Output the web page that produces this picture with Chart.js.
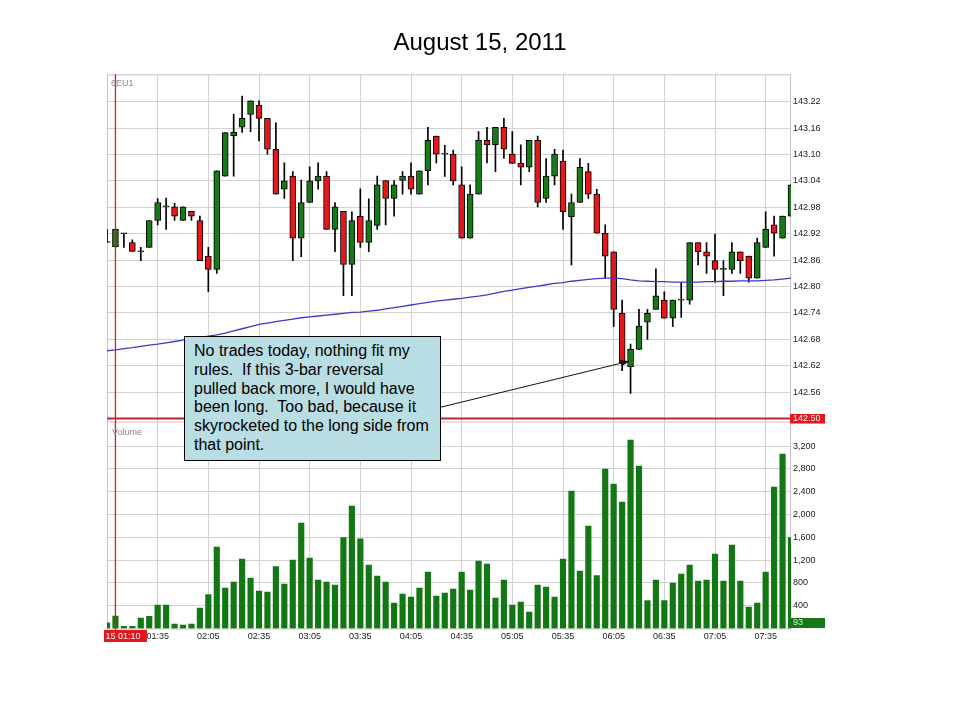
<!DOCTYPE html>
<html>
<head>
<meta charset="utf-8">
<title>August 15, 2011</title>
<script src="https://cdn.jsdelivr.net/npm/chart.js@4.4.1/dist/chart.umd.min.js"></script>
<style>
  html, body { margin: 0; padding: 0; background: #fff; }
  #wrap { position: relative; width: 960px; height: 720px; }
  #chart { position: absolute; left: 0; top: 0; }
  #note {
    position: absolute; left: 184px; top: 336px;
    width: 257px; height: 125px; box-sizing: border-box;
    padding: 5px 0 0 9px;
    border: 1px solid #000; background: #b8dde3;
    font: 16px Arial, "Liberation Sans", sans-serif; line-height: 18.8px;
    white-space: pre; color: #000;
  }
</style>
</head>
<body>
<div id="wrap">
  <canvas id="chart" width="960" height="720"></canvas>
  <div id="note">No trades today, nothing fit my
rules.  If this 3-bar reversal
pulled back more, I would have
been long.  Too bad, because it
skyrocketed to the long side from
that point.</div>
</div>
<script>
// ---- data (5 minute bars, 6EU1) ----
const times = [
  '01:05','01:10','01:15','01:20','01:25','01:30','01:35','01:40','01:45','01:50','01:55',
  '02:00','02:05','02:10','02:15','02:20','02:25','02:30','02:35','02:40','02:45','02:50','02:55',
  '03:00','03:05','03:10','03:15','03:20','03:25','03:30','03:35','03:40','03:45','03:50','03:55',
  '04:00','04:05','04:10','04:15','04:20','04:25','04:30','04:35','04:40','04:45','04:50','04:55',
  '05:00','05:05','05:10','05:15','05:20','05:25','05:30','05:35','05:40','05:45','05:50','05:55',
  '06:00','06:05','06:10','06:15','06:20','06:25','06:30','06:35','06:40','06:45','06:50','06:55',
  '07:00','07:05','07:10','07:15','07:20','07:25','07:30','07:35','07:40','07:45','07:50'
];

const opens = [
  142.900, 142.890, 142.920, 142.900, 142.879, 142.889, 142.950, 142.981, 142.981, 142.950,
  142.971, 142.950, 142.869, 142.839, 143.051, 143.142, 143.162, 143.191, 143.212, 143.182,
  143.112, 143.021, 143.051, 142.910, 142.991, 143.040, 143.051, 142.930, 142.971, 142.850,
  142.960, 142.900, 142.939, 143.041, 143.000, 143.041, 143.051, 143.010, 143.063, 143.142,
  143.101, 143.101, 143.031, 142.910, 143.010, 143.132, 143.122, 143.162, 143.101, 143.080,
  143.071, 143.132, 143.000, 143.051, 143.085, 142.959, 142.991, 143.061, 143.010, 142.921,
  142.879, 142.739, 142.618, 142.657, 142.719, 142.748, 142.769, 142.728, 142.769, 142.769,
  142.900, 142.879, 142.859, 142.839, 142.839, 142.879, 142.869, 142.819, 142.889, 142.940,
  142.910, 142.960
];
const highs = [
  142.930, 142.930, 142.920, 142.906, 142.889, 142.950, 143.000, 143.001, 142.989, 142.981,
  142.971, 142.960, 142.889, 143.063, 143.150, 143.192, 143.233, 143.222, 143.222, 143.182,
  143.172, 143.081, 143.061, 143.042, 143.072, 143.081, 143.061, 142.991, 142.971, 142.970,
  143.022, 142.999, 143.051, 143.041, 143.041, 143.061, 143.081, 143.063, 143.162, 143.142,
  143.121, 143.110, 143.072, 143.031, 143.152, 143.162, 143.162, 143.182, 143.152, 143.122,
  143.132, 143.142, 143.091, 143.112, 143.110, 143.010, 143.091, 143.080, 143.021, 142.940,
  142.879, 142.769, 142.669, 142.748, 142.748, 142.840, 142.788, 142.769, 142.809, 142.900,
  142.900, 142.900, 142.919, 142.859, 142.900, 142.879, 142.869, 142.910, 142.970, 142.960,
  142.960, 143.031
];
const lows = [
  142.900, 142.890, 142.889, 142.880, 142.859, 142.889, 142.940, 142.930, 142.950, 142.950,
  142.950, 142.859, 142.788, 142.830, 143.051, 143.051, 143.150, 143.152, 143.131, 143.101,
  143.010, 143.000, 142.859, 142.868, 142.991, 143.021, 142.930, 142.879, 142.779, 142.779,
  142.889, 142.879, 142.930, 142.940, 142.960, 143.010, 143.010, 143.010, 143.031, 143.081,
  143.050, 143.031, 142.910, 142.910, 143.010, 143.081, 143.061, 143.091, 143.080, 143.031,
  143.061, 142.981, 142.991, 143.031, 142.930, 142.849, 142.991, 143.000, 142.921, 142.819,
  142.709, 142.609, 142.557, 142.657, 142.680, 142.748, 142.728, 142.709, 142.730, 142.760,
  142.849, 142.830, 142.810, 142.779, 142.830, 142.830, 142.810, 142.819, 142.889, 142.869,
  142.910, 142.960
];
const closes = [
  142.900, 142.930, 142.920, 142.880, 142.879, 142.950, 142.991, 142.981, 142.960, 142.981,
  142.960, 142.859, 142.839, 143.063, 143.150, 143.151, 143.182, 143.222, 143.182, 143.112,
  143.010, 143.040, 142.910, 142.991, 143.040, 143.051, 142.930, 142.981, 142.850, 142.950,
  142.900, 142.950, 143.031, 143.000, 143.031, 143.051, 143.021, 143.063, 143.132, 143.101,
  143.101, 143.040, 142.910, 143.010, 143.132, 143.122, 143.162, 143.112, 143.080, 143.071,
  143.132, 142.991, 143.051, 143.101, 142.970, 142.991, 143.071, 143.010, 142.921, 142.869,
  142.748, 142.627, 142.657, 142.710, 142.739, 142.779, 142.728, 142.769, 142.769, 142.900,
  142.879, 142.869, 142.839, 142.839, 142.879, 142.859, 142.819, 142.900, 142.930, 142.921,
  142.960, 143.031
];
// moving average (blue line)
const movingAvg = [
  142.654, 142.656, 142.659, 142.661, 142.664, 142.667, 142.669, 142.672, 142.675, 142.678,
  142.681, 142.684, 142.687, 142.690, 142.694, 142.699, 142.704, 142.709, 142.714, 142.717,
  142.720, 142.723, 142.726, 142.729, 142.731, 142.733, 142.735, 142.737, 142.739, 142.741,
  142.742, 142.744, 142.746, 142.749, 142.752, 142.755, 142.758, 142.761, 142.764, 142.767,
  142.769, 142.771, 142.773, 142.776, 142.778, 142.781, 142.785, 142.789, 142.792, 142.795,
  142.798, 142.801, 142.804, 142.807, 142.809, 142.812, 142.814, 142.816, 142.818, 142.819,
  142.819, 142.818, 142.815, 142.813, 142.812, 142.811, 142.811, 142.810, 142.810, 142.810,
  142.810, 142.811, 142.811, 142.812, 142.812, 142.813, 142.813, 142.813, 142.814, 142.815,
  142.817, 142.819
];
const volumes = [
  100, 219, 40, 40, 184, 213, 412, 412, 79, 60,
  79, 360, 593, 1430, 710, 816, 1219, 886, 658, 640,
  1084, 781, 1202, 1851, 1237, 851, 816, 763, 1593, 2149,
  1575, 1114, 921, 816, 447, 605, 553, 710, 991, 570,
  623, 693, 991, 675, 1184, 1131, 535, 851, 412, 465,
  290, 763, 728, 553, 1219, 2412, 1009, 1798, 927, 2798,
  2535, 2219, 3307, 2850, 491, 851, 491, 798, 956, 1114,
  833, 851, 1307, 833, 1465, 833, 377, 447, 991, 2482,
  3061, 1593
];

const tickTimes = ['01:35','02:05','02:35','03:05','03:35','04:05','04:35','05:05','05:35','06:05','06:35','07:05','07:35'];
const priceTicks = [142.50, 142.56, 142.62, 142.68, 142.74, 142.80, 142.86, 142.92, 142.98, 143.04, 143.10, 143.16, 143.22];
const volTicks = [400, 800, 1200, 1600, 2000, 2400, 2800, 3200];

// arrow from the note to the reversal bar (bar index, price)
const arrowStart = { x: 38.3, y: 142.520 };
const arrowEnd = { x: 61.8, y: 142.630 };

// crosshair readout
const cursorDay = '15';
const cursorTime = '01:10';
const cursorPrice = 142.50;
const cursorVolume = 93;
const symbol = '6EU1';

// ---- styles ----
const FONT = "Arial, 'Liberation Sans', sans-serif";
const green = '#177a17';
const red = '#e3171c';
const gridColor = '#d2d2d2';
const tickFont = { family: FONT, size: 9 };

Chart.defaults.font.family = FONT;

const bodyColors = opens.map((o, i) => closes[i] >= o ? green : red);

const overlay = {
  id: 'overlay',
  beforeDatasetsDraw(chart) {
    const { ctx, chartArea: a, scales } = chart;
    ctx.save();
    ctx.strokeStyle = '#c4c4c4';
    ctx.lineWidth = 1;
    ctx.strokeRect(a.left + 0.5, a.top + 0.5, a.right - a.left - 1, a.bottom - a.top);
    // separator between price and volume panes
    ctx.strokeStyle = '#efb4b4';
    ctx.beginPath();
    ctx.moveTo(a.left, scales.price.bottom + 0.5);
    ctx.lineTo(a.right + 36, scales.price.bottom + 0.5);
    ctx.stroke();
    ctx.restore();
  },
  afterDatasetsDraw(chart) {
    // arrowhead at the end of the arrow line
    const pts = chart.getDatasetMeta(4).data;
    const p0 = pts[0], p1 = pts[1];
    const ang = Math.atan2(p1.y - p0.y, p1.x - p0.x);
    const ctx = chart.ctx;
    ctx.save();
    ctx.fillStyle = '#111';
    ctx.translate(p1.x, p1.y);
    ctx.rotate(ang);
    ctx.beginPath();
    ctx.moveTo(0, 0);
    ctx.lineTo(-8, -3.5);
    ctx.lineTo(-8, 3.5);
    ctx.closePath();
    ctx.fill();
    ctx.restore();
  },
  afterDraw(chart) {
    const { ctx, chartArea: a, scales: { x, price, vol } } = chart;
    const cx = x.getPixelForValue(times.indexOf(cursorTime));
    const hy = price.getPixelForValue(cursorPrice);
    ctx.save();
    // crosshair
    ctx.strokeStyle = '#b52a2f';
    ctx.lineWidth = 2;
    ctx.beginPath();
    ctx.moveTo(a.left, hy);
    ctx.lineTo(a.right, hy);
    ctx.stroke();
    ctx.strokeStyle = '#e3141c';
    ctx.lineWidth = 1.3;
    ctx.beginPath();
    ctx.moveTo(cx, a.top);
    ctx.lineTo(cx, a.bottom + 2);
    ctx.stroke();

    ctx.font = '9px ' + FONT;
    ctx.textBaseline = 'middle';
    ctx.textAlign = 'left';
    // price readout
    ctx.fillStyle = red;
    ctx.fillRect(a.right - 1, hy - 4.5, 35, 9.5);
    ctx.fillStyle = '#fff';
    ctx.fillText(cursorPrice.toFixed(2), a.right + 2, hy + 0.5);
    // time readout
    ctx.fillStyle = red;
    ctx.fillRect(cx - 11.5, a.bottom + 1.5, 43, 12);
    ctx.fillStyle = '#fff';
    ctx.fillText(cursorDay + ' ' + cursorTime, cx - 10, a.bottom + 8);
    // volume readout
    const vy = vol.getPixelForValue(0);
    ctx.fillStyle = '#167816';
    ctx.fillRect(a.right - 1, vy - 10.5, 35, 10);
    ctx.fillStyle = '#d8ecd8';
    ctx.fillText(String(cursorVolume), a.right + 2, vy - 5.5);
    // pane captions
    ctx.fillStyle = '#8a8a8a';
    ctx.fillText(symbol, a.left + 4, price.top + 9);
    ctx.fillText('Volume', a.left + 5, vol.top + 11);
    ctx.restore();
  }
};

new Chart(document.getElementById('chart'), {
  type: 'bar',
  data: {
    datasets: [
      {
        label: 'wicks',
        data: times.map((t, i) => ({ x: i, y: [lows[i], highs[i]] })),
        yAxisID: 'price',
        backgroundColor: '#000',
        borderWidth: 0,
        barThickness: 1,
        minBarLength: 1,
        grouped: false,
        order: 4
      },
      {
        label: 'bodies',
        data: times.map((t, i) => ({ x: i, y: [opens[i], closes[i]] })),
        yAxisID: 'price',
        backgroundColor: bodyColors,
        borderColor: '#000',
        borderWidth: 1,
        borderSkipped: false,
        barThickness: 6,
        minBarLength: 1,
        grouped: false,
        order: 3
      },
      {
        label: 'Volume',
        data: volumes.map((v, i) => ({ x: i, y: v })),
        yAxisID: 'vol',
        backgroundColor: '#137813',
        borderWidth: 0,
        barThickness: 5.5,
        grouped: false,
        order: 5
      },
      {
        type: 'line',
        label: 'MA',
        data: movingAvg.map((v, i) => ({ x: i, y: v })),
        yAxisID: 'price',
        borderColor: '#3b3bc8',
        borderWidth: 1.3,
        pointRadius: 0,
        order: 2
      },
      {
        type: 'line',
        label: 'arrow',
        data: [arrowStart, arrowEnd],
        yAxisID: 'price',
        borderColor: '#111',
        borderWidth: 1,
        pointRadius: 0,
        order: 1
      }
    ]
  },
  options: {
    responsive: false,
    animation: false,
    layout: { padding: { left: 107, right: 107, top: 0, bottom: 75.5 } },
    plugins: {
      legend: { display: false },
      tooltip: { enabled: false },
      title: {
        display: true,
        text: 'August 15, 2011',
        color: '#000',
        font: { family: FONT, size: 24, weight: 'normal' },
        padding: { top: 29, bottom: 16.5 }
      }
    },
    scales: {
      x: {
        type: 'linear',
        min: 0,
        max: times.length - 1,
        offset: false,
        grid: { color: gridColor, drawTicks: false, offset: false },
        border: { display: false },
        afterBuildTicks: (s) => { s.ticks = tickTimes.map(t => ({ value: times.indexOf(t) })); },
        afterFit: (s) => { s.height = 16; },
        ticks: {
          autoSkip: false, maxRotation: 0, padding: 3, color: '#222', font: tickFont,
          callback: (v) => times[v]
        }
      },
      price: {
        type: 'linear',
        position: 'right',
        stack: 'panes',
        stackWeight: 347.2,
        min: 142.4932,
        max: 143.2823,
        grid: { color: gridColor, drawTicks: false },
        border: { display: false },
        afterBuildTicks: (s) => { s.ticks = priceTicks.map(v => ({ value: v })); },
        afterFit: (s) => { s.width = 62; },
        ticks: {
          autoSkip: false, padding: 2, color: '#222', font: tickFont,
          callback: (v) => v.toFixed(2)
        }
      },
      vol: {
        type: 'linear',
        position: 'right',
        stack: 'panes',
        stackWeight: 207,
        min: 0,
        max: 3631,
        grid: { color: gridColor, drawTicks: false },
        border: { display: false },
        afterBuildTicks: (s) => { s.ticks = volTicks.map(v => ({ value: v })); },
        afterFit: (s) => { s.width = 62; },
        ticks: {
          autoSkip: false, padding: 2, color: '#222', font: tickFont,
          callback: (v) => v.toLocaleString('en-US')
        }
      }
    }
  },
  plugins: [overlay]
});
</script>
</body>
</html>
